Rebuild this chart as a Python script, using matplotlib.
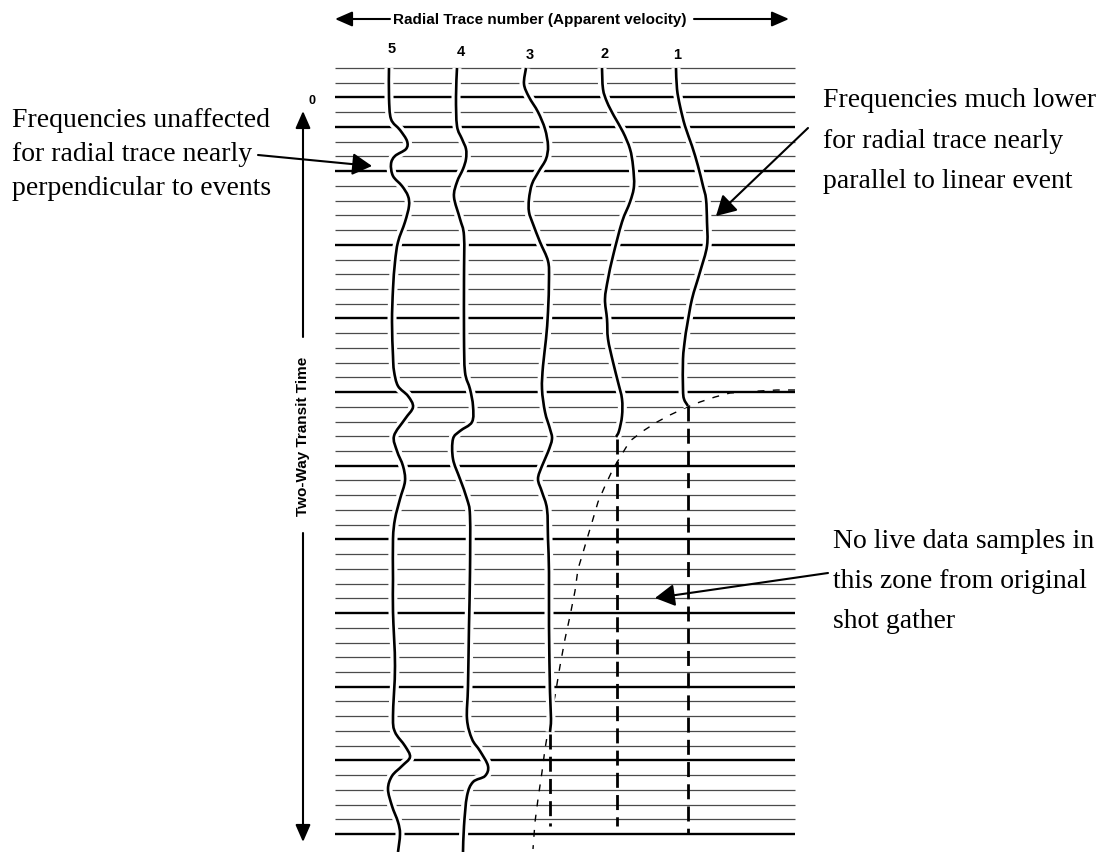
import numpy as np
import matplotlib
matplotlib.use("Agg")
import matplotlib.pyplot as plt
import matplotlib.patheffects as pe
from matplotlib.path import Path
from matplotlib.patches import PathPatch

W, H = 1103, 853

# sample rows of the gather (53 time lines), heavier every few rows
row_y = np.linspace(69, 835, 53)
thick_rows = [2, 4, 7, 12, 17, 22, 27, 32, 37, 42, 47, 52]
row_x0, row_x1 = 335, 795

# radial trace labels
trace_labels = ["5", "4", "3", "2", "1"]
label_x = [392, 461, 530, 605, 677]
label_y = [49, 52, 55, 54, 55]

# wiggle traces: time (y) and amplitude position (x)
t5 = [69, 98, 120, 131, 142, 150, 157, 165, 177, 187, 197, 207, 223, 243, 263, 290,
      323, 357, 372, 387, 397, 408, 420, 437, 452, 467, 482, 500, 520, 540, 580, 613,
      667, 717, 733, 747, 758, 767, 777, 790, 807, 823, 835, 853]
x5 = [389, 389, 391, 400, 407, 406, 395, 391, 393, 402, 408, 409, 405, 398, 395, 393,
      392, 393, 394, 398, 408, 413, 405, 394, 397, 403, 405, 400, 395, 393, 393, 393,
      395, 393, 395, 405, 410, 402, 392, 388, 392, 398, 400, 398]

t4 = [69, 98, 127, 140, 150, 160, 170, 183, 198, 220, 237, 280, 337, 373, 390, 407,
      423, 432, 440, 460, 480, 500, 517, 573, 627, 687, 720, 740, 752, 767, 777, 783,
      797, 827, 853]
x4 = [457, 456, 457, 462, 466, 466, 463, 457, 454, 460, 464, 464, 464, 465, 470, 473,
      472, 460, 453, 453, 460, 467, 470, 470, 469, 468, 467, 472, 480, 488, 485, 473,
      467, 464, 463]

t3 = [69, 85, 98, 113, 130, 147, 160, 172, 185, 200, 213, 225, 243, 262, 280, 313,
      340, 367, 390, 413, 430, 440, 453, 467, 480, 493, 510, 540, 573, 627, 693, 720, 733]
x3 = [526, 524, 529, 538, 545, 548, 546, 539, 532, 529, 529, 533, 540, 548, 549, 548,
      546, 543, 542, 545, 550, 552, 548, 542, 538, 542, 547, 548, 549, 549, 550, 551, 550]

t2 = [69, 90, 103, 117, 133, 150, 167, 187, 203, 223, 257, 280, 300, 320, 340, 363,
      383, 400, 417, 432, 438]
x2 = [602, 603, 607, 614, 623, 630, 633, 634, 630, 622, 613, 608, 605, 607, 608, 613,
      618, 622, 622, 619, 616]

t1 = [69, 90, 107, 127, 147, 167, 187, 200, 223, 247, 273, 300, 327, 340, 360, 390, 400, 407]
x1 = [676, 677, 680, 685, 692, 698, 703, 706, 707, 707, 700, 692, 687, 685, 683, 683, 684, 688]

# dead zone: dashed continuation of traces 3, 2, 1 (x, t_start, t_end)
dead_x = [550, 617, 688]
dead_t0 = [735, 440, 407]
dead_t1 = [827, 827, 835]

# edge of live data in the radial domain
edge_x = [795, 777, 760, 730, 715, 700, 687, 670, 657, 643, 630, 622, 613, 605, 598,
          593, 587, 582, 578, 575, 570, 565, 560, 555, 550, 545, 542, 538, 535, 533]
edge_t = [391, 391, 392, 394, 398, 403, 408, 416, 423, 432, 442, 455, 470, 487, 503,
          520, 540, 557, 570, 592, 617, 640, 667, 697, 720, 750, 773, 800, 823, 850]

left_note = ["Frequencies unaffected", "for radial trace nearly", "perpendicular to events"]
right_note = ["Frequencies much lower", "for radial trace nearly", "parallel to linear event"]
zone_note = ["No live data samples in", "this zone from original", "shot gather"]


def smooth_path(xs, ys):
    # curve through the read points (Catmull-Rom drawn as cubic Beziers)
    p = np.column_stack([xs, ys]).astype(float)
    p = np.vstack([p[0], p, p[-1]])
    verts = [p[1]]
    codes = [Path.MOVETO]
    for i in range(1, len(p) - 2):
        c1 = p[i] + (p[i + 1] - p[i - 1]) / 6
        c2 = p[i + 1] - (p[i + 2] - p[i]) / 6
        verts += [c1, c2, p[i + 1]]
        codes += [Path.CURVE4] * 3
    return Path(verts, codes)


fig = plt.figure(figsize=(W / 100, H / 100), dpi=100)
ax = fig.add_axes([0, 0, 1, 1])
ax.set_xlim(0, W)
ax.set_ylim(H, 0)
ax.axis("off")

# time lines
for k, y in enumerate(row_y):
    if k in thick_rows:
        ax.hlines(y, row_x0, row_x1, color="black", lw=1.7, zorder=1)
    else:
        ax.hlines(y, row_x0, row_x1, color="#4a4a4a", lw=0.9, zorder=1)

# traces with white halo so the lines break around them
halo = [pe.Stroke(linewidth=6.5, foreground="white"), pe.Normal()]
for tt, xx in [(t5, x5), (t4, x4), (t3, x3), (t2, x2), (t1, x1)]:
    ax.add_patch(PathPatch(smooth_path(xx, tt), fill=False, edgecolor="black", lw=1.9,
                           path_effects=halo, capstyle="butt", joinstyle="round", zorder=3))

for xd, a, b in zip(dead_x, dead_t0, dead_t1):
    ax.plot([xd, xd], [a, b], color="black", lw=2.0, dashes=(5.4, 2.6), zorder=2)

ax.plot(edge_x, edge_t, color="black", lw=1.0, dashes=(5, 6), zorder=2)

for s, xl, yl in zip(trace_labels, label_x, label_y):
    ax.text(xl, yl, s, ha="center", va="center", fontsize=10.5, fontweight="bold",
            family="Liberation Sans")

# header with double arrow
ax.text(540, 20, "Radial Trace number (Apparent velocity)", ha="center", va="center",
        fontsize=11, fontweight="bold", family="Liberation Sans")
head = dict(arrowstyle="-|>,head_length=0.8,head_width=0.35", color="black", lw=1.5,
            mutation_scale=13, shrinkA=0, shrinkB=0)
ax.annotate("", xy=(335, 20), xytext=(390, 20), arrowprops=head)
ax.annotate("", xy=(789, 20), xytext=(694, 20), arrowprops=head)

# time axis arrow
ax.annotate("", xy=(303, 112), xytext=(303, 338), arrowprops=head)
ax.annotate("", xy=(303, 843), xytext=(303, 534), arrowprops=head)
ax.text(303, 436, "Two-Way Transit Time", rotation=90, ha="center", va="center",
        fontsize=11, fontweight="bold", family="Liberation Sans")
ax.text(312, 101, "0", ha="center", va="center", fontsize=9, fontweight="bold",
        family="Liberation Sans")

# annotations
serif = dict(family="Liberation Serif", fontsize=20, va="baseline", ha="left")
for i, s in enumerate(left_note):
    ax.text(12, 127 + 34 * i, s, **serif)
for i, s in enumerate(right_note):
    ax.text(823, 107 + 40.5 * i, s, **serif)
for i, s in enumerate(zone_note):
    ax.text(833, 548 + 40 * i, s, **serif)

big = dict(arrowstyle="-|>,head_length=0.8,head_width=0.45", color="black", lw=1.5,
           mutation_scale=15, shrinkA=0, shrinkB=0)
ax.annotate("", xy=(372, 167), xytext=(258, 156), arrowprops=big)
ax.annotate("", xy=(716, 217), xytext=(808, 129), arrowprops=big)
ax.annotate("", xy=(655, 599), xytext=(828, 574), arrowprops=big)

fig.savefig("out.png", dpi=100, facecolor="white")
